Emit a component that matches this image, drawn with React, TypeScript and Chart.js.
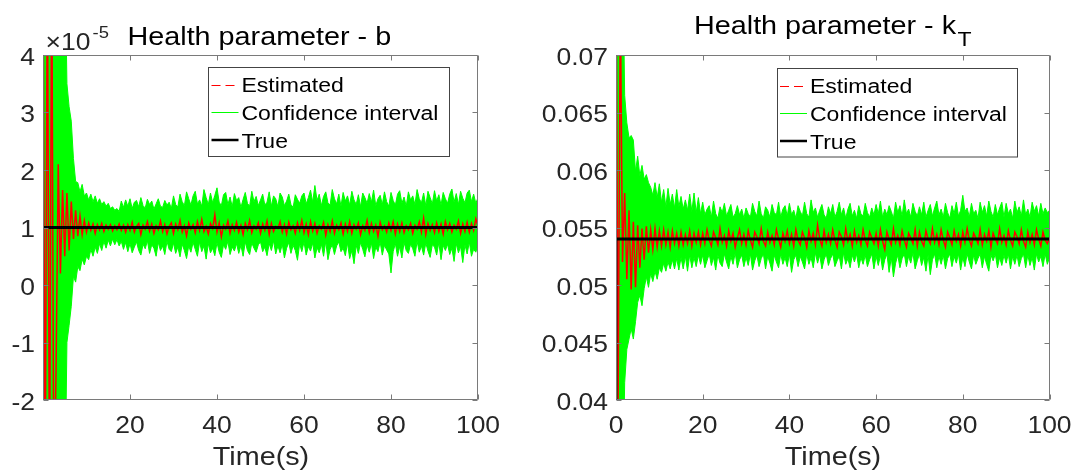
import React, { useEffect, useRef } from "react";
import { Chart, registerables } from "chart.js";

Chart.register(...registerables);

// ---------- DATA ----------
// time grid (s), 0 … 100 in 0.5 s steps
const TIME: number[] = Array.from({ length: 201 }, (_, i) => i * 0.5);
const X_TICKS = [0, 20, 40, 60, 80, 100];

// Health parameter b (values in units of 1e-5)
const B_TRUE = 1;
const B_Y_TICKS = [-2, -1, 0, 1, 2, 3, 4];
const B_EST = [
  6, -4, 6, -4, 6, -4, -1.5, 2.1, 0.2, 1.65,
  0.5, 1.6, 0.6, 1.45, 0.8, 1.3, 0.85, 1.2, 0.88, 1.12,
  0.92, 1.08, 0.95, 1.06, 0.9, 1.05, 0.96, 1.07, 0.93, 1.04,
  0.97, 1.05, 0.94, 1.03, 0.96, 1.06, 0.95, 1.04, 0.92, 1.05,
  0.95, 1.09, 0.92, 1.02, 1.07, 0.88, 1.04, 0.97, 1.1, 0.94,
  1.06, 0.9, 1.03, 0.96, 1.11, 0.93, 1.05, 0.89, 1.02, 1.08,
  0.9, 1.06, 0.96, 1.12, 0.92, 1.03, 0.86, 1.08, 0.97, 1.05,
  0.91, 1.1, 0.95, 1.14, 0.93, 1.02, 0.89, 1.07, 0.98, 1.22,
  0.92, 1.08, 0.84, 1.04, 0.97, 1.11, 0.9, 1.05, 0.95, 1.09,
  0.92, 1.04, 0.88, 1.07, 0.96, 1.12, 0.91, 1.03, 0.97, 1.08,
  0.9, 1.06, 0.95, 1.11, 0.88, 1.07, 0.93, 1.02, 0.98, 1.1,
  0.92, 1.05, 0.89, 1.09, 0.96, 1.03, 0.9, 1.08, 0.95, 1.12,
  0.91, 1.06, 0.88, 1.1, 0.94, 1.07, 0.9, 1.03, 0.97, 1.09,
  0.87, 1.05, 0.93, 1.11, 0.9, 1.04, 0.96, 1.08, 0.89, 1.06,
  0.93, 1.1, 0.9, 1.05, 0.97, 1.08, 0.88, 1.03, 0.95, 1.12,
  0.91, 1.07, 0.93, 1.04, 0.85, 1.09, 0.96, 1.03, 0.92, 1.08,
  0.95, 1.1, 0.89, 1.06, 0.93, 1.08, 0.91, 1.03, 0.96, 1.07,
  0.9, 1.04, 0.97, 1.1, 0.92, 1.16, 0.88, 1.07, 0.95, 1.05,
  0.91, 1.08, 0.93, 1.06, 0.89, 1.1, 0.96, 1.07, 0.92, 1.04,
  0.97, 1.11, 0.9, 1.06, 0.93, 1.09, 0.92, 1.07, 0.95, 1.15,
  1.02,
];
const B_UPPER = [
  6, 6, 6, 6, 6, 6, 6, 6, 6, 6,
  6, 3.5, 3.1, 2.85, 2.2, 1.8, 1.78, 1.62, 1.75, 1.55,
  1.6, 1.48, 1.58, 1.45, 1.55, 1.42, 1.5, 1.4, 1.45, 1.37,
  1.42, 1.33, 1.36, 1.3, 1.33, 1.28, 1.46, 1.35, 1.48, 1.37,
  1.5, 1.33, 1.44, 1.47, 1.36, 1.52, 1.38, 1.34, 1.49, 1.4,
  1.46, 1.32, 1.41, 1.5, 1.37, 1.35, 1.47, 1.39, 1.44, 1.33,
  1.55, 1.4, 1.36, 1.58, 1.45, 1.38, 1.62, 1.5, 1.39, 1.55,
  1.63, 1.41, 1.48, 1.37, 1.66, 1.52, 1.4, 1.6, 1.43, 1.56,
  1.69, 1.44, 1.38, 1.57, 1.61, 1.4, 1.53, 1.36, 1.59, 1.47,
  1.52, 1.35, 1.49, 1.61, 1.42, 1.37, 1.63, 1.45, 1.54, 1.38,
  1.48, 1.58, 1.39, 1.44, 1.62, 1.37, 1.55, 1.5, 1.36, 1.6,
  1.53, 1.38, 1.46, 1.58, 1.4, 1.35, 1.57, 1.49, 1.42, 1.55,
  1.6, 1.41, 1.52, 1.65, 1.44, 1.73, 1.47, 1.58, 1.38, 1.54,
  1.62, 1.43, 1.39, 1.66, 1.5, 1.41, 1.58, 1.37, 1.61, 1.46,
  1.55, 1.39, 1.63, 1.48, 1.4, 1.57, 1.36, 1.6, 1.52, 1.42,
  1.59, 1.44, 1.65, 1.38, 1.5, 1.56, 1.4, 1.62, 1.45, 1.37,
  1.61, 1.47, 1.39, 1.58, 1.64, 1.42, 1.53, 1.37, 1.62, 1.48,
  1.55, 1.4, 1.66, 1.5, 1.43, 1.6, 1.38, 1.63, 1.52, 1.41,
  1.64, 1.46, 1.57, 1.39, 1.61, 1.5, 1.42, 1.58, 1.67, 1.44,
  1.59, 1.4, 1.63, 1.51, 1.43, 1.6, 1.65, 1.45, 1.58, 1.42,
  1.52,
];
const B_LOWER = [
  -4, -4, -4, -4, -4, -4, -4, -4, -4, -4,
  -4, -1.0, -0.7, -0.37, 0.15, 0.05, 0.32, 0.25, 0.45, 0.35,
  0.5, 0.44, 0.62, 0.5, 0.66, 0.55, 0.72, 0.6, 0.76, 0.64,
  0.78, 0.68, 0.8, 0.7, 0.79, 0.68, 0.76, 0.62, 0.74, 0.58,
  0.72, 0.56, 0.66, 0.75, 0.6, 0.52, 0.71, 0.63, 0.77, 0.55,
  0.7, 0.64, 0.5, 0.74, 0.6, 0.68, 0.53, 0.76, 0.62, 0.58,
  0.73, 0.55, 0.66, 0.49, 0.71, 0.6, 0.46, 0.68, 0.57, 0.74,
  0.62, 0.5, 0.75, 0.58, 0.68, 0.45, 0.72, 0.56, 0.64, 0.51,
  0.74, 0.57, 0.48, 0.7, 0.62, 0.76, 0.53, 0.66, 0.59, 0.72,
  0.55, 0.69, 0.5, 0.75, 0.6, 0.53, 0.73, 0.64, 0.57, 0.7,
  0.75, 0.58, 0.66, 0.51, 0.72, 0.6, 0.77, 0.54, 0.68, 0.56,
  0.71, 0.47, 0.64, 0.74, 0.55, 0.69, 0.6, 0.43, 0.72, 0.58,
  0.75, 0.52, 0.67, 0.59, 0.73, 0.47, 0.65, 0.56, 0.71, 0.5,
  0.76, 0.44, 0.62, 0.7, 0.53, 0.68, 0.75, 0.58, 0.64, 0.51,
  0.73, 0.46, 0.6, 0.37, 0.69, 0.55, 0.74, 0.62, 0.49, 0.7,
  0.57, 0.73, 0.46, 0.66, 0.58, 0.75, 0.52, 0.69, 0.61, 0.54,
  0.21, 0.58, 0.72, 0.5, 0.67, 0.47, 0.74, 0.6, 0.55, 0.71,
  0.63, 0.5, 0.76, 0.57, 0.68, 0.52, 0.73, 0.59, 0.48, 0.7,
  0.66, 0.52, 0.74, 0.44, 0.69, 0.6, 0.71, 0.53, 0.64, 0.41,
  0.72, 0.56, 0.67, 0.39, 0.7, 0.54, 0.75, 0.5, 0.62, 0.57,
  0.7,
];

// Health parameter k_T
const KT_TRUE = 0.054;
const KT_TRUE_START = 0.03;
const KT_Y_TICKS = [0.04, 0.045, 0.05, 0.055, 0.06, 0.065, 0.07];
const KT_EST = [
  0.08, 0.04, 0.075, 0.052, 0.058, 0.0505, 0.0565, 0.0496, 0.0555, 0.0498,
  0.0552, 0.0515, 0.0549, 0.0522, 0.0551, 0.0528, 0.0548, 0.0531, 0.0549, 0.0533,
  0.0547, 0.0534, 0.0548, 0.0535, 0.0546, 0.0533, 0.0547, 0.0536, 0.0545, 0.0534,
  0.0546, 0.0535, 0.0544, 0.0536, 0.0547, 0.0534, 0.0545, 0.0537, 0.0546, 0.0535,
  0.0545, 0.0536, 0.0548, 0.0539, 0.0534, 0.0546, 0.0541, 0.0535, 0.0549, 0.0537,
  0.0543, 0.0534, 0.0547, 0.0538, 0.0545, 0.0533, 0.0541, 0.0548, 0.0536, 0.0544,
  0.0535, 0.0547, 0.0539, 0.0533, 0.0546, 0.0542, 0.0536, 0.0549, 0.0538, 0.0534,
  0.0546, 0.0537, 0.0543, 0.0535, 0.0548, 0.054, 0.0533, 0.0545, 0.0538, 0.0547,
  0.0536, 0.0544, 0.0534, 0.0548, 0.0539, 0.0535, 0.0546, 0.0541, 0.0533, 0.0547,
  0.0538, 0.0545, 0.0535, 0.0552, 0.054, 0.0534, 0.0547, 0.0537, 0.0544, 0.0536,
  0.0548, 0.0539, 0.0533, 0.0546, 0.0542, 0.0535, 0.0549, 0.0538, 0.0544, 0.0534,
  0.0547, 0.0537, 0.0543, 0.0535, 0.0548, 0.0539, 0.0534, 0.0546, 0.0541, 0.0536,
  0.0545, 0.0534, 0.0548, 0.0538, 0.0531, 0.0546, 0.054, 0.0535, 0.0549, 0.0537,
  0.0543, 0.0535, 0.0547, 0.0539, 0.0533, 0.0545, 0.0541, 0.0536, 0.0548, 0.0534,
  0.0546, 0.0538, 0.0534, 0.0547, 0.054, 0.0536, 0.0549, 0.0537, 0.0544, 0.0535,
  0.0548, 0.0539, 0.0533, 0.0546, 0.0541, 0.0535, 0.0547, 0.0538, 0.0544, 0.0534,
  0.0546, 0.0537, 0.0549, 0.0539, 0.0534, 0.0545, 0.0541, 0.0536, 0.0548, 0.0535,
  0.0544, 0.0538, 0.0547, 0.0533, 0.0545, 0.054, 0.0536, 0.0549, 0.0537, 0.0543,
  0.0535, 0.0547, 0.0539, 0.0534, 0.0546, 0.0542, 0.0536, 0.0548, 0.0538, 0.0533,
  0.0546, 0.0537, 0.0544, 0.0535, 0.0548, 0.054, 0.0534, 0.0546, 0.0539, 0.0536,
  0.0541,
];
const KT_UPPER = [
  0.08, 0.08, 0.08, 0.08, 0.0665, 0.0641, 0.0628, 0.063, 0.0626, 0.0599,
  0.0612, 0.0595, 0.0604, 0.0592, 0.0596, 0.0589, 0.0585, 0.0578, 0.0589, 0.0576,
  0.0588, 0.0572, 0.0583, 0.0568, 0.0584, 0.057, 0.0579, 0.0567, 0.0583, 0.0568,
  0.0577, 0.0566, 0.0574, 0.0565, 0.0579, 0.0564, 0.058, 0.0563, 0.0576, 0.0562,
  0.0572, 0.0561, 0.0566, 0.0569, 0.0559, 0.0573, 0.0562, 0.0558, 0.0568, 0.0563,
  0.0571, 0.056, 0.0565, 0.057, 0.0559, 0.0562, 0.0569, 0.0561, 0.0566, 0.0558,
  0.0567, 0.0562, 0.0559, 0.0571, 0.0564, 0.056, 0.0573, 0.0562, 0.0558, 0.0568,
  0.0565, 0.0559, 0.057, 0.0563, 0.0561, 0.0572, 0.0559, 0.0566, 0.0569, 0.056,
  0.0571, 0.0561, 0.0565, 0.0558, 0.0569, 0.0564, 0.056, 0.0572, 0.0562, 0.0559,
  0.0574, 0.0563, 0.0567, 0.0559, 0.0565, 0.057, 0.0561, 0.0558, 0.0568, 0.0562,
  0.057, 0.0559, 0.0564, 0.0572, 0.0561, 0.0567, 0.0558, 0.0566, 0.0571, 0.056,
  0.0565, 0.0558, 0.0569, 0.0562, 0.056, 0.0571, 0.0563, 0.0559, 0.0567, 0.0561,
  0.057, 0.0562, 0.0573, 0.0559, 0.0566, 0.0561, 0.0569, 0.0564, 0.0558, 0.0572,
  0.0563, 0.0569, 0.056, 0.0574, 0.0562, 0.0566, 0.0559, 0.0571, 0.0564, 0.056,
  0.0568, 0.0561, 0.0572, 0.0559, 0.0565, 0.057, 0.056, 0.0567, 0.0573, 0.0561,
  0.0566, 0.0559, 0.0571, 0.0563, 0.0558, 0.0569, 0.0562, 0.0572, 0.056, 0.0565,
  0.0578, 0.0564, 0.0567, 0.0559, 0.0571, 0.0562, 0.0565, 0.0558, 0.0572, 0.0563,
  0.0569, 0.056, 0.0573, 0.0564, 0.0559, 0.057, 0.0561, 0.0567, 0.0572, 0.0559,
  0.0571, 0.0562, 0.0566, 0.0558, 0.0573, 0.0563, 0.0568, 0.056, 0.0574, 0.0561,
  0.0566, 0.0559, 0.0572, 0.0564, 0.0569, 0.056, 0.0571, 0.0562, 0.0567, 0.0563,
  0.0565,
];
const KT_LOWER = [
  0.03, 0.03, 0.03, 0.03, 0.0415, 0.0444, 0.0453, 0.0462, 0.0453, 0.0468,
  0.0485, 0.0491, 0.0482, 0.0497, 0.0507, 0.0498, 0.051, 0.0503, 0.0512, 0.0505,
  0.0515, 0.0511, 0.0519, 0.0512, 0.052, 0.0514, 0.0522, 0.0514, 0.0523, 0.0513,
  0.0524, 0.0514, 0.0525, 0.0512, 0.0526, 0.0515, 0.0524, 0.0516, 0.0526, 0.0518,
  0.0526, 0.0515, 0.0521, 0.0527, 0.0517, 0.0524, 0.0513, 0.0526, 0.0519, 0.0516,
  0.0527, 0.052, 0.0514, 0.0525, 0.0518, 0.0528, 0.0515, 0.0522, 0.0526, 0.0516,
  0.0524, 0.0517, 0.0527, 0.0513, 0.0521, 0.0526, 0.0516, 0.0523, 0.0527, 0.0514,
  0.0525, 0.0519, 0.0512, 0.0526, 0.052, 0.0515, 0.0527, 0.0518, 0.0524, 0.0516,
  0.0527, 0.0511, 0.0522, 0.0526, 0.0516, 0.0525, 0.052, 0.0514, 0.0527, 0.0518,
  0.0524, 0.0515, 0.0528, 0.0519, 0.0526, 0.0514, 0.0522, 0.0527, 0.0517, 0.0523,
  0.0527, 0.0516, 0.0521, 0.0525, 0.0514, 0.0528, 0.0518, 0.0523, 0.0515, 0.0526,
  0.052, 0.0527, 0.0515, 0.0524, 0.0518, 0.0526, 0.0516, 0.0522, 0.0527, 0.0514,
  0.0525, 0.0517, 0.0526, 0.0513, 0.0522, 0.0527, 0.0511, 0.0524, 0.0507, 0.0519,
  0.0526, 0.0515, 0.0523, 0.0527, 0.0516, 0.0525, 0.0519, 0.0528, 0.0514, 0.0521,
  0.0527, 0.0517, 0.0524, 0.0512, 0.0526, 0.0509, 0.0522, 0.0527, 0.0515, 0.0525,
  0.0518, 0.0526, 0.0514, 0.0523, 0.0527, 0.0516, 0.0525, 0.0519, 0.0527, 0.0513,
  0.0524, 0.0516, 0.0527, 0.052, 0.0514, 0.0526, 0.0518, 0.0523, 0.0527, 0.0515,
  0.0525, 0.0518, 0.0512, 0.0526, 0.0521, 0.0527, 0.0515, 0.0524, 0.0517, 0.0526,
  0.0519, 0.0527, 0.0514, 0.0525, 0.0518, 0.0526, 0.0516, 0.0523, 0.0527, 0.0515,
  0.0526, 0.0517, 0.0524, 0.0513, 0.0527, 0.052, 0.0525, 0.0516, 0.0527, 0.0518,
  0.0524,
];

const LEGEND_LABELS = ["Estimated", "Confidence interval", "True"];
const X_LABEL = "Time(s)";

// ---------- STYLE ----------
const FONT = '"Liberation Sans", Arial, Helvetica, sans-serif';
const SX = 1.15; // horizontal stretch of the reference's text
const RED = "#ff0000";
const GREEN = "#00ff00";
const TICK_COLOR = "#262626";
const AXIS_COLOR = "#7a7a7a";

function drawText(
  ctx: CanvasRenderingContext2D,
  text: string,
  x: number,
  y: number,
  size: number,
  align: "left" | "center" | "right" = "left",
  color = "#000"
): number {
  ctx.save();
  ctx.font = `${size}px ${FONT}`;
  ctx.fillStyle = color;
  ctx.textBaseline = "alphabetic";
  ctx.textAlign = "left";
  const w = ctx.measureText(text).width * SX;
  let left = x;
  if (align === "center") left = x - w / 2;
  else if (align === "right") left = x - w;
  ctx.translate(left, y);
  ctx.scale(SX, 1);
  ctx.fillText(text, 0, 0);
  ctx.restore();
  return w;
}

type Panel = {
  canvasW: number;
  areaLeft: number;
  areaRight: number;
  yMin: number;
  yMax: number;
  yTicks: number[];
  yFmt: (v: number) => string;
  xFmt: (v: number) => string;
  est: number[];
  upper: number[];
  lower: number[];
  trueLine: { x: number; y: number }[];
  legend: { x: number; y: number; w: number; h: number };
  xLabelX: number;
  drawTitle: (ctx: CanvasRenderingContext2D) => void;
};

const toPts = (vals: number[]) => vals.map((v, i) => ({ x: TIME[i], y: v }));

function makeChart(canvas: HTMLCanvasElement, p: Panel) {
  const decor = {
    id: "matlabDecor",
    afterDraw(chart: any) {
      const { ctx, chartArea: a, scales } = chart;
      const xs = scales.x;
      const ys = scales.y;
      ctx.save();
      // axes box
      ctx.strokeStyle = AXIS_COLOR;
      ctx.lineWidth = 1;
      const L = Math.round(a.left) + 0.5;
      const R = Math.round(a.right) - 0.5;
      const T = Math.round(a.top) + 0.5;
      const B = Math.round(a.bottom) - 0.5;
      ctx.beginPath();
      ctx.rect(L, T, R - L, B - T);
      // inward ticks
      for (const t of X_TICKS) {
        const px = Math.round(xs.getPixelForValue(t)) + 0.5;
        ctx.moveTo(px, B);
        ctx.lineTo(px, B - 5);
        ctx.moveTo(px, T);
        ctx.lineTo(px, T + 5);
      }
      for (const t of p.yTicks) {
        const py = Math.round(ys.getPixelForValue(t)) + 0.5;
        ctx.moveTo(L, py);
        ctx.lineTo(L + 5, py);
        ctx.moveTo(R, py);
        ctx.lineTo(R - 5, py);
      }
      ctx.stroke();

      // tick labels
      for (const t of X_TICKS) {
        const s = p.xFmt(t);
        if (s) drawText(ctx, s, xs.getPixelForValue(t), 433, 23, "center", TICK_COLOR);
      }
      for (const t of p.yTicks) {
        drawText(ctx, p.yFmt(t), a.left - 8, ys.getPixelForValue(t) + 9.5, 23, "right", TICK_COLOR);
      }
      // x label
      drawText(ctx, X_LABEL, p.xLabelX, 465, 25, "center", TICK_COLOR);

      // legend
      const lg = p.legend;
      ctx.fillStyle = "#ffffff";
      ctx.fillRect(lg.x, lg.y, lg.w, lg.h);
      ctx.strokeStyle = "#444";
      ctx.lineWidth = 1;
      ctx.strokeRect(Math.round(lg.x) + 0.5, Math.round(lg.y) + 0.5, lg.w, lg.h);
      const rows = [lg.y + 24.5, lg.y + 52.5, lg.y + 81];
      const lx0 = lg.x + 3.5;
      // Estimated: dashed red
      ctx.save();
      ctx.strokeStyle = RED;
      ctx.lineWidth = 1;
      ctx.setLineDash([9, 5]);
      ctx.beginPath();
      ctx.moveTo(lx0, Math.round(rows[0] - 7) + 0.5);
      ctx.lineTo(lx0 + 24, Math.round(rows[0] - 7) + 0.5);
      ctx.stroke();
      ctx.restore();
      // Confidence interval: thin green
      ctx.strokeStyle = GREEN;
      ctx.lineWidth = 1;
      ctx.beginPath();
      ctx.moveTo(lx0, Math.round(rows[1] - 8) + 0.5);
      ctx.lineTo(lx0 + 27, Math.round(rows[1] - 8) + 0.5);
      ctx.stroke();
      // True: thick black
      ctx.strokeStyle = "#000";
      ctx.lineWidth = 2.5;
      ctx.beginPath();
      ctx.moveTo(lx0, rows[2] - 8);
      ctx.lineTo(lx0 + 27, rows[2] - 8);
      ctx.stroke();
      LEGEND_LABELS.forEach((lab, i) => drawText(ctx, lab, lg.x + 33.5, rows[i], 20, "left", "#000"));

      // title
      p.drawTitle(ctx);
      ctx.restore();
    },
  };

  return new Chart(canvas, {
    type: "line",
    data: {
      datasets: [
        {
          label: LEGEND_LABELS[2],
          data: p.trueLine,
          borderColor: "#000",
          borderWidth: 2.8,
          pointRadius: 0,
          fill: false,
        },
        {
          label: LEGEND_LABELS[0],
          data: toPts(p.est),
          borderColor: RED,
          borderWidth: 1.5,
          pointRadius: 0,
          fill: false,
        },
        {
          label: LEGEND_LABELS[1],
          data: toPts(p.upper),
          borderColor: GREEN,
          backgroundColor: GREEN,
          borderWidth: 1,
          pointRadius: 0,
          fill: "+1",
        },
        {
          label: LEGEND_LABELS[1] + " (lower)",
          data: toPts(p.lower),
          borderColor: GREEN,
          borderWidth: 1,
          pointRadius: 0,
          fill: false,
        },
      ],
    },
    options: {
      animation: false,
      responsive: false,
      devicePixelRatio: 1,
      layout: { padding: { left: 0, right: p.canvasW - p.areaRight, top: 55, bottom: 0 } },
      elements: { line: { tension: 0 } },
      plugins: { legend: { display: false }, title: { display: false }, tooltip: { enabled: false } },
      events: [],
      scales: {
        x: {
          type: "linear",
          min: 0,
          max: 100,
          ticks: { display: false, stepSize: 20 },
          grid: { display: false },
          border: { display: false },
          afterFit: (s: any) => {
            s.height = 75;
          },
        },
        y: {
          type: "linear",
          min: p.yMin,
          max: p.yMax,
          ticks: { display: false },
          grid: { display: false },
          border: { display: false },
          afterFit: (s: any) => {
            s.width = p.areaLeft;
          },
        },
      },
    },
    plugins: [decor],
  } as any);
}

const LEFT: Panel = {
  canvasW: 537,
  areaLeft: 43,
  areaRight: 478,
  yMin: -2,
  yMax: 4,
  yTicks: B_Y_TICKS,
  yFmt: (v) => String(v),
  xFmt: (v) => (v === 0 ? "" : String(v)),
  est: B_EST,
  upper: B_UPPER,
  lower: B_LOWER,
  trueLine: [
    { x: 0, y: B_TRUE },
    { x: 100, y: B_TRUE },
  ],
  legend: { x: 208, y: 67, w: 241, h: 89 },
  xLabelX: 261,
  drawTitle: (ctx) => {
    drawText(ctx, "\u00d710", 45.5, 50, 23, "left", TICK_COLOR);
    drawText(ctx, "-5", 92.5, 38, 16, "left", TICK_COLOR);
    drawText(ctx, "Health parameter - b", 127.5, 45, 25, "left", "#000");
  },
};

const RIGHT: Panel = {
  canvasW: 538,
  areaLeft: 79,
  areaRight: 512.5,
  yMin: 0.04,
  yMax: 0.07,
  yTicks: KT_Y_TICKS,
  yFmt: (v) => String(parseFloat(v.toFixed(3))),
  xFmt: (v) => String(v),
  est: KT_EST,
  upper: KT_UPPER,
  lower: KT_LOWER,
  trueLine: [
    { x: 0, y: KT_TRUE_START },
    { x: 0, y: KT_TRUE },
    { x: 100, y: KT_TRUE },
  ],
  legend: { x: 776.5 - 537, y: 68, w: 240, h: 88.5 },
  xLabelX: 833 - 537,
  drawTitle: (ctx) => {
    const w = drawText(ctx, "Health parameter - k", 694 - 537, 33.5, 25, "left", "#000");
    drawText(ctx, "T", 694 - 537 + w + 1.5, 46, 20, "left", "#000");
  },
};

function PanelCanvas({ panel, left }: { panel: Panel; left: number }) {
  const ref = useRef<HTMLCanvasElement | null>(null);
  useEffect(() => {
    if (!ref.current) return;
    const chart = makeChart(ref.current, panel);
    return () => chart.destroy();
  }, [panel]);
  return (
    <canvas
      ref={ref}
      width={panel.canvasW}
      height={475}
      style={{ position: "absolute", left, top: 0, width: panel.canvasW, height: 475 }}
    />
  );
}

export default function App() {
  return (
    <div style={{ position: "absolute", left: 0, top: 0, width: 1075, height: 475, background: "#fff", overflow: "hidden" }}>
      <PanelCanvas panel={LEFT} left={0} />
      <PanelCanvas panel={RIGHT} left={537} />
    </div>
  );
}
